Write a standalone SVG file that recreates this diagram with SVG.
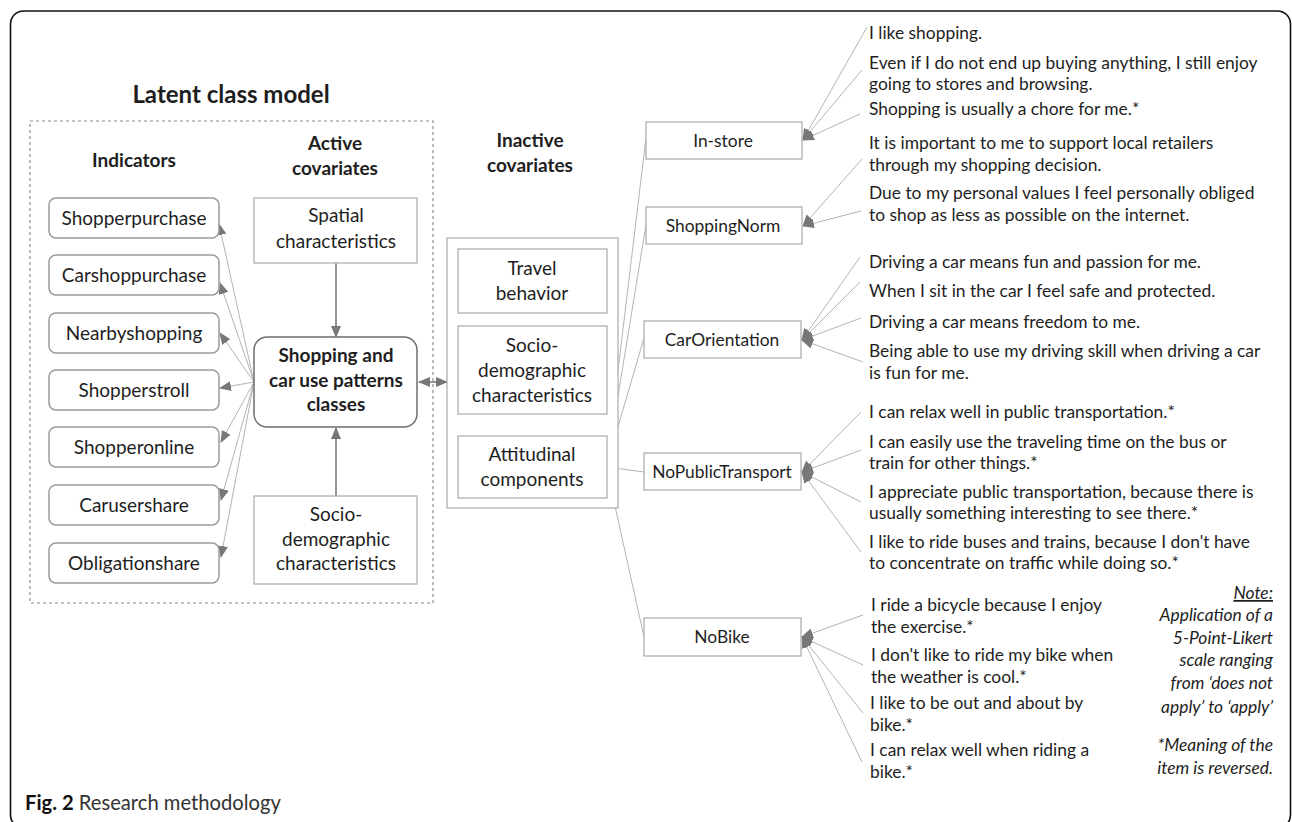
<svg xmlns="http://www.w3.org/2000/svg" width="1292" height="822" viewBox="0 0 1292 822">
<style>
text{font-family:Lato,"Liberation Sans",sans-serif;fill:#1e1e1e}
.lbl{font-size:19px;text-anchor:middle}
.hd{font-size:19px;font-weight:bold;text-anchor:middle}
.st{font-size:17.4px}
.fl{font-size:17.4px;text-anchor:middle}
.nt{font-size:17.4px;font-style:italic;text-anchor:end}
.ind{fill:#fff;stroke:#9a9a9a;stroke-width:1.5}
.box{fill:#fff;stroke:#b0b0b0;stroke-width:1.3}
.thin{stroke:#b4b4b4;stroke-width:1;fill:none}
.arr{stroke:#7a7a7a;stroke-width:1.6;fill:none}
</style>
<defs>
<marker id="ah" viewBox="0 0 12 10" refX="11" refY="5" markerWidth="12" markerHeight="10" markerUnits="userSpaceOnUse" orient="auto-start-reverse">
<path d="M0,0 L12,5 L0,10 z" fill="#777"/>
</marker>
</defs>
<rect x="10.5" y="11" width="1280" height="817" rx="13" fill="#fff" stroke="#111" stroke-width="1.6"/>
<text x="231" y="103" style="font-size:24px;font-weight:bold;text-anchor:middle">Latent class model</text>
<rect x="30" y="121" width="403" height="482" fill="none" stroke="#8a8a8a" stroke-width="1.2" stroke-dasharray="3,3"/>
<text class="hd" x="134" y="167">Indicators</text>
<text class="hd" x="335" y="150">Active</text>
<text class="hd" x="335" y="175">covariates</text>
<text class="hd" x="530" y="147">Inactive</text>
<text class="hd" x="530" y="172">covariates</text>
<g id="connectors">
<line class="thin" x1="254" y1="382" x2="219" y2="224" marker-end="url(#ah)"/>
<line class="thin" x1="254" y1="382" x2="220" y2="283" marker-end="url(#ah)"/>
<line class="thin" x1="254" y1="382" x2="220" y2="333" marker-end="url(#ah)"/>
<line class="thin" x1="254" y1="382" x2="220" y2="388" marker-end="url(#ah)"/>
<line class="thin" x1="254" y1="382" x2="221" y2="442" marker-end="url(#ah)"/>
<line class="thin" x1="254" y1="382" x2="221" y2="500" marker-end="url(#ah)"/>
<line class="thin" x1="254" y1="382" x2="221" y2="557" marker-end="url(#ah)"/>
<line class="arr" x1="336" y1="263" x2="336" y2="337" marker-end="url(#ah)"/>
<line class="arr" x1="336" y1="496" x2="336" y2="428" marker-end="url(#ah)"/>
<line class="arr" x1="419" y1="382" x2="447" y2="382" marker-start="url(#ah)" marker-end="url(#ah)"/>
<line class="thin" x1="607" y1="462" x2="646" y2="138"/>
<line class="thin" x1="607" y1="463" x2="646" y2="225"/>
<line class="thin" x1="607" y1="464" x2="644" y2="338"/>
<line class="thin" x1="607" y1="467" x2="644" y2="472"/>
<line class="thin" x1="607" y1="470" x2="644" y2="637"/>
<line class="thin" x1="867" y1="27" x2="803" y2="140" marker-end="url(#ah)"/>
<line class="thin" x1="862" y1="70" x2="803" y2="140" marker-end="url(#ah)"/>
<line class="thin" x1="860" y1="114" x2="803" y2="140" marker-end="url(#ah)"/>
<line class="thin" x1="862" y1="159" x2="803" y2="226" marker-end="url(#ah)"/>
<line class="thin" x1="861" y1="211" x2="803" y2="226" marker-end="url(#ah)"/>
<line class="thin" x1="860" y1="257" x2="802" y2="340" marker-end="url(#ah)"/>
<line class="thin" x1="860" y1="282" x2="802" y2="340" marker-end="url(#ah)"/>
<line class="thin" x1="861" y1="318" x2="802" y2="340" marker-end="url(#ah)"/>
<line class="thin" x1="863" y1="362" x2="802" y2="340" marker-end="url(#ah)"/>
<line class="thin" x1="861" y1="412" x2="802" y2="472" marker-end="url(#ah)"/>
<line class="thin" x1="861" y1="450" x2="802" y2="472" marker-end="url(#ah)"/>
<line class="thin" x1="861" y1="502" x2="802" y2="472" marker-end="url(#ah)"/>
<line class="thin" x1="861" y1="552" x2="802" y2="472" marker-end="url(#ah)"/>
<line class="thin" x1="863" y1="615" x2="802" y2="637" marker-end="url(#ah)"/>
<line class="thin" x1="863" y1="665" x2="802" y2="637" marker-end="url(#ah)"/>
<line class="thin" x1="863" y1="713" x2="802" y2="637" marker-end="url(#ah)"/>
<line class="thin" x1="862" y1="762" x2="802" y2="637" marker-end="url(#ah)"/>
</g>
<g id="ind-shopperpurchase"><rect class="ind" x="49" y="198" width="170" height="40" rx="7"/><text class="lbl" x="134" y="225">Shopperpurchase</text></g>
<g id="ind-carshoppurchase"><rect class="ind" x="49" y="255" width="170" height="40" rx="7"/><text class="lbl" x="134" y="282">Carshoppurchase</text></g>
<g id="ind-nearbyshopping"><rect class="ind" x="49" y="313" width="170" height="40" rx="7"/><text class="lbl" x="134" y="340">Nearbyshopping</text></g>
<g id="ind-shopperstroll"><rect class="ind" x="49" y="370" width="170" height="40" rx="7"/><text class="lbl" x="134" y="397">Shopperstroll</text></g>
<g id="ind-shopperonline"><rect class="ind" x="49" y="427" width="170" height="40" rx="7"/><text class="lbl" x="134" y="454">Shopperonline</text></g>
<g id="ind-carusershare"><rect class="ind" x="49" y="485" width="170" height="40" rx="7"/><text class="lbl" x="134" y="512">Carusershare</text></g>
<g id="ind-obligationshare"><rect class="ind" x="49" y="543" width="170" height="40" rx="7"/><text class="lbl" x="134" y="570">Obligationshare</text></g>
<g id="spatial"><rect class="box" x="254" y="198" width="163" height="65"/><text class="lbl" x="336" y="222">Spatial</text><text class="lbl" x="336" y="248">characteristics</text></g>
<g id="classes"><rect x="254" y="337" width="163" height="90" rx="13" fill="#fff" stroke="#6e6e6e" stroke-width="1.5"/><text class="hd" x="336" y="362">Shopping and</text><text class="hd" x="336" y="387">car use patterns</text><text class="hd" x="336" y="411">classes</text></g>
<g id="socio-active"><rect class="box" x="254" y="496" width="163" height="88"/><text class="lbl" x="336" y="521">Socio-</text><text class="lbl" x="336" y="546">demographic</text><text class="lbl" x="336" y="570">characteristics</text></g>
<g id="inactive"><rect class="box" x="447" y="238" width="171" height="270"/></g>
<g id="travel"><rect class="box" x="458" y="249" width="149" height="64"/><text class="lbl" x="532" y="275">Travel</text><text class="lbl" x="532" y="300">behavior</text></g>
<g id="socio-inactive"><rect class="box" x="458" y="326" width="149" height="88"/><text class="lbl" x="532" y="352">Socio-</text><text class="lbl" x="532" y="377">demographic</text><text class="lbl" x="532" y="402">characteristics</text></g>
<g id="attitudinal"><rect class="box" x="458" y="436" width="149" height="62"/><text class="lbl" x="532" y="461">Attitudinal</text><text class="lbl" x="532" y="486">components</text></g>
<g id="instore"><rect class="box" x="646" y="122" width="156" height="37"/><text class="fl" x="723" y="147">In-store</text></g>
<g id="shoppingnorm"><rect class="box" x="646" y="207" width="156" height="37"/><text class="fl" x="723" y="232">ShoppingNorm</text></g>
<g id="carorientation"><rect class="box" x="644" y="321" width="157" height="37"/><text class="fl" x="722" y="346">CarOrientation</text></g>
<g id="nopublictransport"><rect class="box" x="644" y="453" width="157" height="37"/><text class="fl" x="722" y="478">NoPublicTransport</text></g>
<g id="nobike"><rect class="box" x="644" y="618" width="157" height="38"/><text class="fl" x="722" y="643">NoBike</text></g>
<g id="statements">
<text class="st" x="869" y="39">I like shopping.</text>
<text class="st" x="869" y="69">Even if I do not end up buying anything, I still enjoy</text>
<text class="st" x="869" y="90">going to stores and browsing.</text>
<text class="st" x="869" y="115">Shopping is usually a chore for me.*</text>
<text class="st" x="869" y="149">It is important to me to support local retailers</text>
<text class="st" x="869" y="171">through my shopping decision.</text>
<text class="st" x="869" y="199">Due to my personal values I feel personally obliged</text>
<text class="st" x="869" y="221">to shop as less as possible on the internet.</text>
<text class="st" x="869" y="268">Driving a car means fun and passion for me.</text>
<text class="st" x="869" y="297">When I sit in the car I feel safe and protected.</text>
<text class="st" x="869" y="328">Driving a car means freedom to me.</text>
<text class="st" x="869" y="357">Being able to use my driving skill when driving a car</text>
<text class="st" x="869" y="379">is fun for me.</text>
<text class="st" x="869" y="418">I can relax well in public transportation.*</text>
<text class="st" x="869" y="448">I can easily use the traveling time on the bus or</text>
<text class="st" x="869" y="469">train for other things.*</text>
<text class="st" x="869" y="498">I appreciate public transportation, because there is</text>
<text class="st" x="869" y="519">usually something interesting to see there.*</text>
<text class="st" x="869" y="548">I like to ride buses and trains, because I don't have</text>
<text class="st" x="869" y="569">to concentrate on traffic while doing so.*</text>
<text class="st" x="871" y="611">I ride a bicycle because I enjoy</text>
<text class="st" x="871" y="633">the exercise.*</text>
<text class="st" x="871" y="661">I don't like to ride my bike when</text>
<text class="st" x="871" y="683">the weather is cool.*</text>
<text class="st" x="870" y="709">I like to be out and about by</text>
<text class="st" x="870" y="731">bike.*</text>
<text class="st" x="870" y="756">I can relax well when riding a</text>
<text class="st" x="870" y="778">bike.*</text>
</g>
<g id="note">
<text class="nt" x="1273" y="599" text-decoration="underline">Note:</text>
<text class="nt" x="1273" y="621">Application of a</text>
<text class="nt" x="1273" y="644">5-Point-Likert</text>
<text class="nt" x="1273" y="666">scale ranging</text>
<text class="nt" x="1273" y="689">from ‘does not</text>
<text class="nt" x="1273" y="713">apply’ to ‘apply’</text>
<text class="nt" x="1273" y="751">*Meaning of the</text>
<text class="nt" x="1273" y="774">item is reversed.</text>
</g>
<text x="25" y="810" style="font-size:20.2px;fill:#333"><tspan font-weight="bold" fill="#111">Fig. 2</tspan> Research methodology</text>
</svg>
